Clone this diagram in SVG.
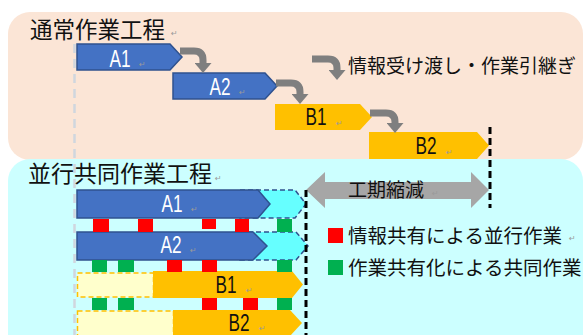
<svg xmlns="http://www.w3.org/2000/svg" width="584" height="335" viewBox="0 0 584 335">
<style>
.jp{font-family:"Noto Sans CJK JP","Noto Sans",sans-serif;fill:#111}
.lab{font-family:"Liberation Sans",Arial,sans-serif;font-size:24px;text-anchor:middle}
.w{fill:#fff}.k{fill:#111}
.pm{font-family:"DejaVu Sans",sans-serif;font-size:8px;fill:#9a9a9a}
.a{fill:#4472C4;stroke:#2F528F;stroke-width:1.5}
.b{fill:#FFC000}
.ext{fill:#66FFFF;stroke:#2F528F;stroke-width:1.5;stroke-dasharray:5 3}
.pre{fill:#FFFFCC;stroke:#FFC000;stroke-width:1.5;stroke-dasharray:5 3}
.flow{fill:none;stroke:#7F7F7F;stroke-width:7}
.r{fill:#FF0000}.g{fill:#00B050}
.bdash{stroke:#000;stroke-width:3;stroke-dasharray:7 4;fill:none}
</style>
<defs>
<marker id="gh" markerUnits="userSpaceOnUse" markerWidth="10" markerHeight="17" viewBox="0 0 10 17" refX="0" refY="8.5" orient="auto">
<path d="M0,0 L10,8.5 L0,17 Z" fill="#7F7F7F"/>
</marker>
</defs>

<!-- panels -->
<rect x="8" y="12" width="575" height="148" rx="22" fill="#FBE5D6"/>
<rect x="8" y="159" width="575" height="200" rx="22" fill="#CCFFFF"/>

<line x1="74.5" y1="44" x2="74.5" y2="335" stroke="#D0D6DE" stroke-width="2.5" stroke-dasharray="9 6"/>

<!-- titles -->
<g id="title-normal">
<text class="jp" x="30" y="37.5" font-size="22.5">通常作業工程</text>
<text class="pm" x="171" y="36">↵</text>
</g>
<g id="title-parallel">
<text class="jp" x="28" y="182" font-size="23">並行共同作業工程</text>
<text class="pm" x="215" y="181">↵</text>
</g>

<!-- top sequential -->
<g id="top-A1">
<polygon class="a" points="77,44 170,44 182,57 170,70 77,70"/>
<text class="lab w" x="120" y="66.5" textLength="21" lengthAdjust="spacingAndGlyphs">A1</text>
<text class="pm" x="139" y="67">↵</text>
</g>
<g id="top-A2">
<polygon class="a" points="173,73 265,73 277,86 265,99 173,99"/>
<text class="lab w" x="220" y="94.5" textLength="21" lengthAdjust="spacingAndGlyphs">A2</text>
<text class="pm" x="239" y="95">↵</text>
</g>
<g id="top-B1">
<polygon class="b" points="275,104 360,104 372,117 360,130 275,130"/>
<text class="lab k" x="316" y="125" textLength="21" lengthAdjust="spacingAndGlyphs">B1</text>
<text class="pm" x="336" y="126">↵</text>
</g>
<g id="top-B2">
<polygon class="b" points="369,132 477,132 489,145.5 477,159 369,159"/>
<text class="lab k" x="426" y="154" textLength="21" lengthAdjust="spacingAndGlyphs">B2</text>
<text class="pm" x="446" y="155">↵</text>
</g>

<g id="connectors">
<path class="flow" d="M180,51 H194 Q203,51 203,60 V63" marker-end="url(#gh)"/>
<path class="flow" d="M276,83 H291 Q300,83 300,92 V94" marker-end="url(#gh)"/>
<path class="flow" d="M370,113 H386 Q395,113 395,122 V123" marker-end="url(#gh)"/>
</g>

<!-- legend top -->
<g id="legend-handover">
<path class="flow" d="M312,59 H328 Q337,59 337,68 V70" marker-end="url(#gh)"/>
<text class="jp" x="348" y="73" font-size="19">情報受け渡し・作業引継ぎ</text>
</g>

<!-- parallel section -->
<g id="par-A1">
<polygon class="ext" points="240,190 295,190 306,204 295,218 240,218"/>
<polygon class="a" points="77,190 258,190 270,204 258,218 77,218"/>
<text class="lab w" x="172" y="212" textLength="21" lengthAdjust="spacingAndGlyphs">A1</text>
<text class="pm" x="191" y="212">↵</text>
</g>
<g id="par-A2">
<polygon class="ext" points="240,232 296,232 308,246 296,260 240,260"/>
<polygon class="a" points="77,232 253,232 267,246 253,260 77,260"/>
<text class="lab w" x="171" y="253" textLength="21" lengthAdjust="spacingAndGlyphs">A2</text>
<text class="pm" x="190" y="253">↵</text>
</g>
<g id="par-B1">
<rect class="pre" x="77.5" y="273" width="76" height="24"/>
<polygon class="b" points="153,271 292,271 303,284.5 292,298 153,298"/>
<text class="lab k" x="226" y="293" textLength="21" lengthAdjust="spacingAndGlyphs">B1</text>
<text class="pm" x="246" y="293">↵</text>
</g>
<g id="par-B2">
<rect class="pre" x="77.5" y="311" width="96" height="30"/>
<polygon class="b" points="173,310 290,310 302,323 290,336 173,336"/>
<text class="lab k" x="239" y="331" textLength="21" lengthAdjust="spacingAndGlyphs">B2</text>
<text class="pm" x="259" y="331">↵</text>
</g>

<g id="sync-marks">
<rect class="r" x="93" y="219" width="16" height="13"/>
<rect class="r" x="138" y="219" width="15" height="13"/>
<rect class="r" x="202" y="219" width="14" height="10"/>
<rect class="r" x="235" y="219" width="14" height="13"/>
<rect class="g" x="277" y="219" width="15" height="13"/>

<rect class="g" x="92" y="260" width="15" height="12"/>
<rect class="g" x="118" y="260" width="16" height="12"/>
<rect class="r" x="167" y="260" width="15" height="12"/>
<rect class="r" x="202" y="260" width="15" height="12"/>
<rect class="g" x="277" y="260" width="15" height="12"/>

<rect class="g" x="92" y="298" width="15" height="12"/>
<rect class="g" x="118" y="298" width="16" height="12"/>
<rect class="r" x="202" y="298" width="15" height="12"/>
<rect class="r" x="243" y="298" width="15" height="12"/>
<rect class="g" x="277" y="298" width="15" height="12"/>
</g>

<g id="reduction">
<polygon fill="#A6A6A6" points="306,190 325,172 325,182 471,182 471,172 489,190 471,208 471,199 325,199 325,208"/>
<text class="jp" x="348" y="197" font-size="19">工期縮減</text>
<text class="pm" x="432" y="196">↵</text>
</g>

<line class="bdash" x1="490" y1="127" x2="490" y2="208"/>
<line class="bdash" x1="306" y1="190" x2="306" y2="335"/>

<g id="legend-red">
<rect class="r" x="328" y="228" width="15" height="15"/>
<text class="jp" x="348" y="243" font-size="19.5">情報共有による並行作業</text>
<text class="pm" x="569" y="241">↵</text>
</g>
<g id="legend-green">
<rect class="g" x="328" y="260" width="15" height="15"/>
<text class="jp" x="348" y="274.5" font-size="19.5">作業共有化による共同作業</text>
</g>
</svg>
